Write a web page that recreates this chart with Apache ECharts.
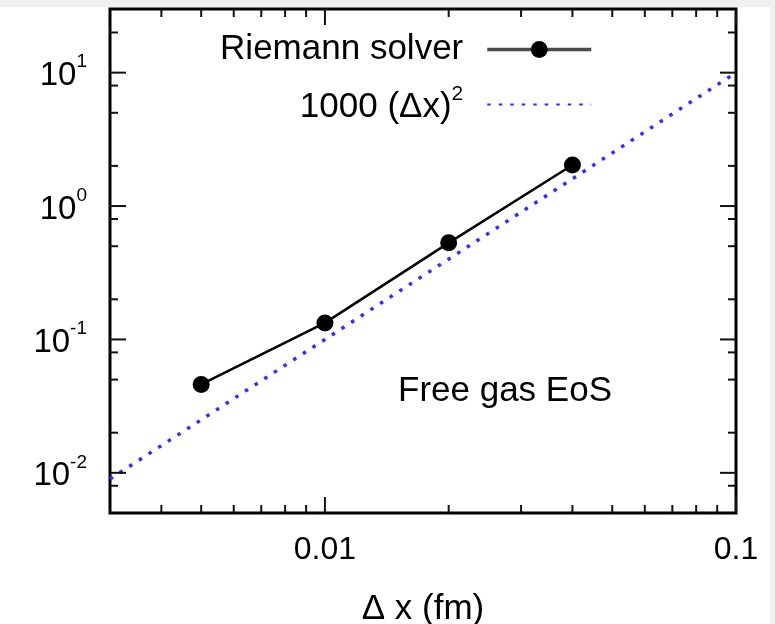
<!DOCTYPE html>
<html>
<head>
<meta charset="utf-8">
<script src="https://cdn.jsdelivr.net/npm/echarts@6/dist/echarts.min.js"></script>
<style>
  html, body { margin: 0; padding: 0; background: #f0f0f0; }
  #paper { position: absolute; left: 0; top: 7px; width: 770px; height: 617px; background: #ffffff; }
  #chart { position: absolute; left: 0; top: 0; width: 775px; height: 624px; }
</style>
</head>
<body>
<div id="paper"></div>
<div id="chart"></div>
<script>
// ---- data ----
const seriesNames = ['Riemann solver', '1000 (Δx)²'];
const riemannDx = [0.005, 0.01, 0.02, 0.04];
const riemannErr = [0.046, 0.133, 0.53, 2.03];
const refDx = [0.003, 0.01, 0.1];
const refErr = [0.009, 0.1, 10];

const xRange = [0.003, 0.1];
const yRange = [0.005, 30];

const xMajorTicks = [0.01, 0.1];
const xTickLabels = ['0.01', '0.1'];
const xMinorTicks = [0.004, 0.005, 0.006, 0.007, 0.008, 0.009, 0.02, 0.03, 0.04, 0.05, 0.06, 0.07, 0.08, 0.09];
const yMajorTicks = [0.01, 0.1, 1, 10];
const yTickExponents = ['-2', '-1', '0', '1'];
const yMinorTicks = [0.008, 0.02, 0.05, 0.08, 0.2, 0.5, 0.8, 2, 5, 8, 20];

const annotationText = 'Free gas EoS';
const xAxisTitle = 'Δ x (fm)';

// ---- helpers ----
function matchTick(v, ticks) {
  for (let i = 0; i < ticks.length; i++) {
    if (Math.abs(Math.log10(v) - Math.log10(ticks[i])) < 1e-6) return i;
  }
  return -1;
}

const tickData = [];
xMajorTicks.forEach(v => tickData.push([v, yRange[0], 0, 1]));
xMinorTicks.forEach(v => tickData.push([v, yRange[0], 0, 0]));
yMajorTicks.forEach(v => tickData.push([xRange[0], v, 1, 1]));
yMinorTicks.forEach(v => tickData.push([xRange[0], v, 1, 0]));

const FONT = '"Liberation Sans", Arial, Helvetica, sans-serif';

const chart = echarts.init(document.getElementById('chart'), null, { renderer: 'canvas' });

const option = {
  animation: false,
  backgroundColor: 'transparent',
  textStyle: { fontFamily: FONT, color: '#000' },
  grid: {
    left: 110, right: 39, top: 9, bottom: 111,
    outerBoundsMode: 'none', containLabel: false,
    show: true, borderColor: '#000', borderWidth: 3, backgroundColor: 'transparent'
  },
  title: {
    text: annotationText,
    left: 398, top: 374, padding: 0,
    textStyle: { fontFamily: FONT, fontSize: 35, fontWeight: 'normal', color: '#000' }
  },
  legend: {
    orient: 'vertical',
    align: 'right',
    right: 182, top: 32, padding: 0,
    itemWidth: 104, itemHeight: 21, itemGap: 17,
    selectedMode: false,
    data: [
      { name: seriesNames[0], lineStyle: { color: '#4a4a4a', width: 3.5 } },
      { name: seriesNames[1], itemStyle: { opacity: 0, color: 'transparent', borderWidth: 0 } }
    ],
    formatter: function (name) {
      if (name === seriesNames[1]) return '{t|1000 (Δx)}{s|2}{sp| }';
      return '{r|' + name + '}{sp| }';
    },
    textStyle: {
      fontFamily: FONT, fontSize: 35, color: '#000',
      rich: {
        r: { fontFamily: FONT, fontSize: 35, lineHeight: 34, color: '#000' },
        t: { fontFamily: FONT, fontSize: 35, lineHeight: 41, verticalAlign: 'bottom', color: '#000' },
        s: { fontFamily: FONT, fontSize: 21, lineHeight: 21, verticalAlign: 'top', color: '#000' },
        sp: { width: 19 }
      }
    }
  },
  xAxis: {
    type: 'log', logBase: 10, min: xRange[0], max: xRange[1],
    name: xAxisTitle, nameLocation: 'middle', nameGap: 79,
    nameTextStyle: { fontFamily: FONT, fontSize: 35, color: '#000' },
    axisLine: { show: false }, axisTick: { show: false },
    splitLine: { show: false }, minorTick: { show: false },
    axisLabel: {
      margin: 21, fontFamily: FONT, fontSize: 32, color: '#000', hideOverlap: false,
      showMinLabel: true, showMaxLabel: true,
      formatter: function (v) {
        const i = matchTick(v, xMajorTicks);
        return i >= 0 ? xTickLabels[i] : '';
      }
    }
  },
  yAxis: {
    type: 'log', logBase: 10, min: yRange[0], max: yRange[1],
    axisLine: { show: false }, axisTick: { show: false },
    splitLine: { show: false }, minorTick: { show: false },
    axisLabel: {
      margin: 23, hideOverlap: false, showMinLabel: true, showMaxLabel: true,
      fontFamily: FONT, fontSize: 33, color: '#000',
      formatter: function (v) {
        const i = matchTick(v, yMajorTicks);
        return i >= 0 ? '{b|10}{s|' + yTickExponents[i] + '}' : '';
      },
      rich: {
        b: { fontFamily: FONT, fontSize: 33, lineHeight: 40, verticalAlign: 'bottom', color: '#000' },
        s: { fontFamily: FONT, fontSize: 19, lineHeight: 19, verticalAlign: 'top', color: '#000' }
      }
    }
  },
  series: [
    {
      name: seriesNames[1], type: 'line',
      data: refDx.map((x, i) => [x, refErr[i]]),
      symbol: 'none', showSymbol: false, clip: true,
      lineStyle: { color: '#2f2fff', width: 3.5, type: [3.5, 8] },
      itemStyle: { color: '#2f2fff' },
      z: 3
    },
    {
      name: seriesNames[0], type: 'line',
      data: riemannDx.map((x, i) => [x, riemannErr[i]]),
      symbol: 'circle', symbolSize: 17,
      lineStyle: { color: '#000', width: 2.5 },
      itemStyle: { color: '#000' },
      z: 4
    },
    {
      name: 'ticks', type: 'custom', clip: false, silent: true, z: 5,
      data: tickData,
      encode: { x: 0, y: 1 },
      renderItem: function (params, api) {
        const kind = api.value(2);
        const len = api.value(3) ? 16 : 8;
        const style = { stroke: '#111', lineWidth: 2 };
        if (kind === 0) {
          const pb = api.coord([api.value(0), yRange[0]]);
          const pt = api.coord([api.value(0), yRange[1]]);
          return { type: 'group', children: [
            { type: 'line', shape: { x1: pb[0], y1: pb[1], x2: pb[0], y2: pb[1] - len }, style: style },
            { type: 'line', shape: { x1: pt[0], y1: pt[1], x2: pt[0], y2: pt[1] + len }, style: style }
          ] };
        }
        const pl = api.coord([xRange[0], api.value(1)]);
        const pr = api.coord([xRange[1], api.value(1)]);
        return { type: 'group', children: [
          { type: 'line', shape: { x1: pl[0], y1: pl[1], x2: pl[0] + len, y2: pl[1] }, style: style },
          { type: 'line', shape: { x1: pr[0], y1: pr[1], x2: pr[0] - len, y2: pr[1] }, style: style }
        ] };
      }
    }
  ]
};
chart.setOption(option);
</script>
</body>
</html>
